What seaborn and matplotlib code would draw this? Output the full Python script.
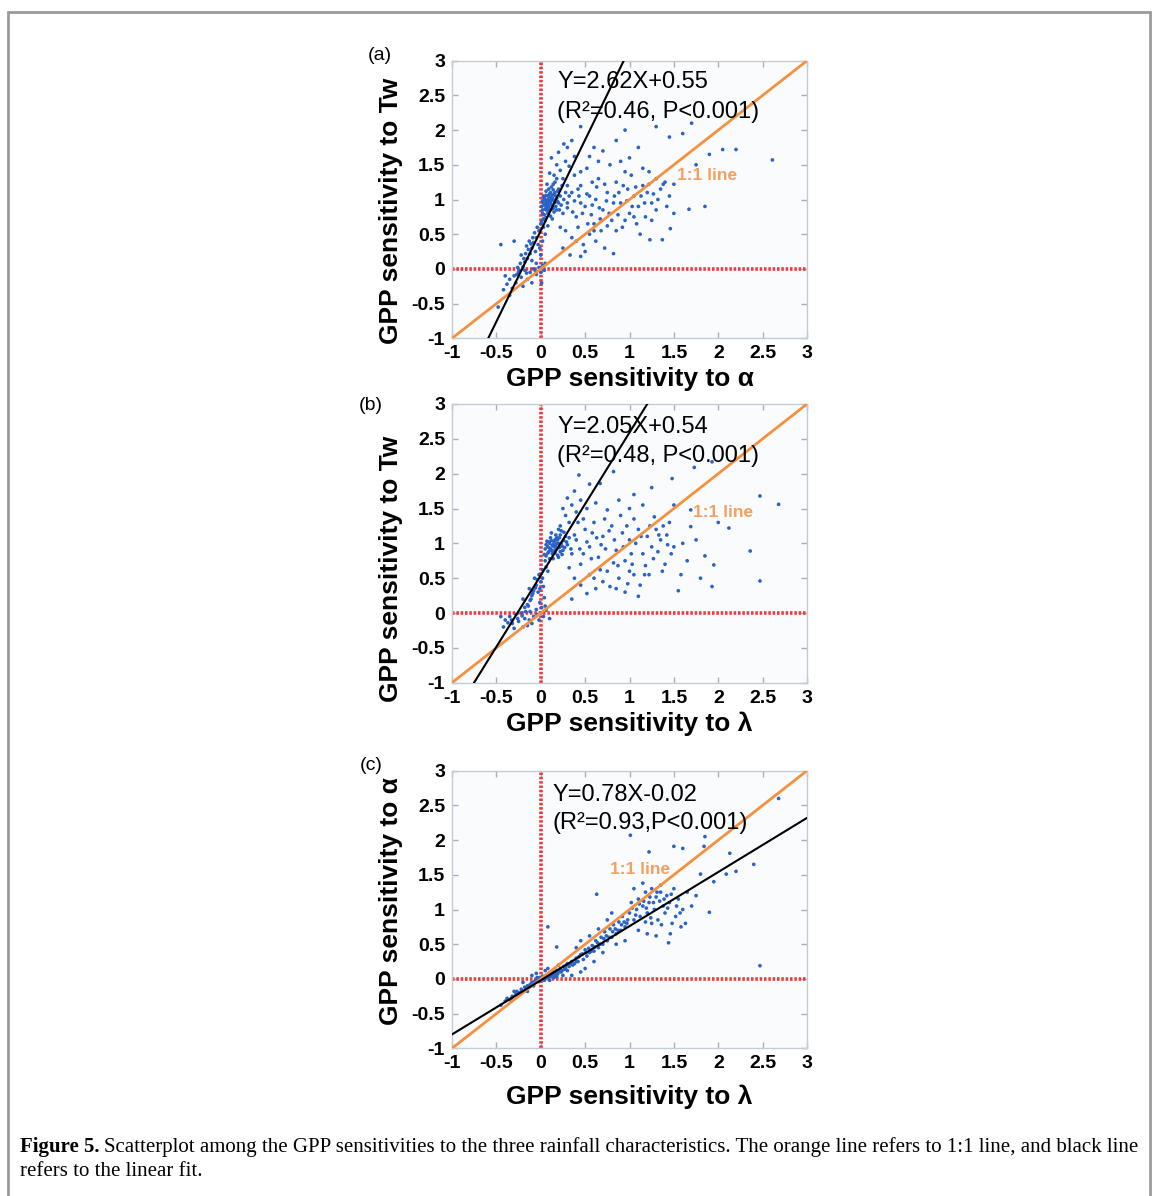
import matplotlib
matplotlib.use("Agg")
import matplotlib.pyplot as plt
import seaborn as sns
import numpy as np
from matplotlib.lines import Line2D
from matplotlib.ticker import MultipleLocator, FormatStrFormatter

# points (x, y); a: alpha vs Tw, b: lambda vs Tw, c: lambda vs alpha
a_pts = [
    (0.02, 0.85), (0.04, 0.92), (0.05, 1.00), (0.06, 0.88), (0.07, 0.95), (0.08, 1.05), (0.09, 0.90), (0.10, 0.98),
    (0.11, 1.10), (0.12, 0.93), (0.13, 1.02), (0.14, 0.87), (0.15, 1.08), (0.06, 1.12), (0.08, 0.80), (0.10, 0.84),
    (0.12, 1.18), (0.16, 0.96), (0.18, 1.02), (0.04, 0.78), (0.03, 1.05), (0.09, 1.15), (0.11, 0.76), (0.14, 1.14),
    (0.17, 0.90), (0.19, 1.12), (0.05, 0.70), (0.07, 1.22), (0.13, 0.72), (0.20, 0.95), (0.22, 1.05), (0.16, 1.25),
    (0.02, 0.98), (0.08, 0.99), (0.10, 1.03), (0.12, 0.99), (0.06, 0.96), (0.09, 0.86), (0.15, 0.82), (0.21, 0.85),
    (0.00, 0.65), (-0.02, 0.55), (0.03, 0.60), (-0.05, 0.45), (-0.08, 0.38), (-0.03, 0.35), (-0.10, 0.30),
    (-0.12, 0.22), (-0.06, 0.25), (-0.15, 0.15), (-0.18, 0.10), (-0.10, 0.12), (-0.20, 0.03), (-0.05, 0.08),
    (0.02, 0.40), (0.05, 0.50), (0.08, 0.62), (-0.13, 0.40), (-0.16, 0.33), (-0.22, 0.20),
    (-0.30, -0.10), (-0.25, -0.05), (-0.28, -0.20), (-0.22, -0.12), (-0.18, -0.02), (-0.15, -0.15), (-0.12, -0.05),
    (-0.08, 0.00), (-0.05, -0.08), (-0.02, 0.02), (0.00, -0.05), (0.02, 0.05), (0.04, -0.02), (-0.10, -0.20),
    (-0.35, -0.15), (-0.38, -0.22), (-0.32, -0.28), (-0.20, -0.25), (0.01, -0.20), (0.05, 0.08), (-0.40, -0.10),
    (-0.26, 0.02), (-0.42, -0.30), (-0.45, 0.35), (-0.30, 0.40), (-0.48, -0.55), (-0.35, -0.38),
    (0.15, 1.35), (0.18, 1.50), (0.12, 1.60), (0.22, 1.42), (0.25, 1.30), (0.28, 1.55), (0.20, 1.68), (0.30, 1.75),
    (0.32, 1.48), (0.35, 1.85), (0.26, 1.80), (0.45, 2.05), (0.38, 1.62), (0.10, 1.38),
    (0.25, 0.80), (0.30, 0.95), (0.35, 1.10), (0.40, 0.75), (0.45, 1.20), (0.50, 0.90), (0.55, 1.05), (0.60, 0.65),
    (0.65, 1.30), (0.70, 0.85), (0.75, 1.10), (0.80, 0.70), (0.85, 1.25), (0.90, 0.95), (0.95, 1.40), (1.00, 0.80),
    (0.28, 0.55), (0.35, 0.45), (0.42, 0.60), (0.48, 0.35), (0.55, 0.50), (0.62, 0.40), (0.68, 0.55), (0.72, 0.30),
    (0.38, 1.35), (0.52, 1.45), (0.58, 1.25), (0.78, 1.50), (0.88, 1.10), (0.30, 1.20), (0.45, 0.95), (0.62, 1.00),
    (0.82, 0.95), (0.25, 0.30), (0.33, 0.20), (0.45, 0.18), (0.50, 0.25), (0.22, 0.60), (0.57, 0.78), (0.67, 0.72),
    (0.74, 0.98), (0.92, 0.60), (0.98, 1.15), (0.43, 1.05), (0.36, 0.82), (0.82, 0.22),
    (1.05, 1.05), (1.10, 0.90), (1.15, 1.20), (1.20, 1.10), (1.25, 0.95), (1.30, 1.30), (1.35, 1.15), (1.08, 0.65),
    (1.18, 0.75), (1.23, 0.42), (1.37, 0.42), (1.12, 0.50), (1.22, 1.40), (1.40, 1.25), (1.45, 1.05), (1.02, 1.35),
    (1.30, 0.85), (1.15, 1.45), (1.46, 0.58),
    (0.70, 1.70), (0.85, 1.85), (1.00, 1.60), (1.10, 1.75), (1.30, 2.05), (1.45, 1.90), (1.70, 2.10), (1.90, 1.65),
    (2.05, 1.72), (2.20, 1.72), (1.60, 1.95), (0.95, 2.00),
    (2.61, 1.57), (1.85, 0.90), (1.67, 0.86), (1.50, 0.80), (1.50, 1.22), (1.75, 1.50),
]
a_pts_more = [
    (0.01, 0.90), (0.03, 0.95), (0.05, 0.86), (0.07, 0.90), (0.09, 1.00), (0.11, 0.95), (0.13, 0.90), (0.15, 0.98),
    (0.17, 1.05), (0.19, 0.97), (0.04, 1.02), (0.06, 1.06), (0.08, 0.93), (0.10, 1.08), (0.12, 0.86), (0.14, 1.00),
    (0.16, 1.10), (0.18, 0.85), (0.20, 1.15), (0.23, 0.92), (0.05, 0.94), (0.07, 0.84), (0.09, 0.97), (0.11, 1.02),
    (0.13, 1.06), (0.02, 0.80), (0.24, 1.20), (0.26, 1.00), (0.28, 1.10), (0.30, 0.88), (0.18, 1.30), (0.14, 1.22),
    (0.03, 0.72), (0.01, 0.68), (0.06, 0.74),
    (-0.04, 0.60), (-0.07, 0.52), (-0.09, 0.45), (-0.11, 0.36), (-0.14, 0.28), (-0.17, 0.22), (-0.19, 0.15),
    (-0.23, 0.08), (-0.01, 0.30), (0.00, 0.20), (-0.24, -0.02), (-0.27, -0.08), (-0.16, -0.06), (-0.06, -0.03),
    (0.03, 0.00),
    (0.32, 1.05), (0.38, 0.98), (0.42, 1.15), (0.47, 0.80), (0.52, 1.08), (0.58, 0.92), (0.63, 1.18), (0.66, 0.88),
    (0.72, 1.22), (0.77, 0.80), (0.83, 1.05), (0.87, 0.78), (0.93, 1.20), (0.97, 0.98), (1.03, 0.90), (1.07, 1.18),
    (1.13, 1.05), (1.17, 0.95), (1.22, 1.22), (1.27, 1.08), (1.32, 1.00), (1.38, 1.22), (1.42, 0.90), (0.53, 0.65),
    (0.60, 0.55), (0.75, 0.62), (0.85, 0.55), (0.95, 0.70), (1.05, 0.75), (1.25, 0.70), (0.40, 0.40), (0.65, 1.55),
    (0.55, 1.62), (0.45, 1.40), (0.60, 1.75), (0.90, 1.55),
]

b_pts = [
    (0.08, 0.95), (0.10, 1.00), (0.12, 0.90), (0.14, 0.98), (0.16, 1.05), (0.18, 0.92), (0.20, 1.00), (0.22, 0.88),
    (0.11, 1.08), (0.13, 0.85), (0.15, 0.95), (0.17, 1.12), (0.19, 0.83), (0.21, 1.08), (0.24, 0.96), (0.26, 1.04),
    (0.09, 0.88), (0.07, 1.03), (0.12, 1.15), (0.25, 0.90), (0.28, 1.10), (0.05, 0.92), (0.18, 1.00), (0.14, 0.78),
    (0.23, 1.18), (0.30, 0.98), (0.06, 0.82), (0.16, 0.90), (0.20, 0.80), (0.10, 0.93),
    (0.05, 0.75), (0.02, 0.62), (-0.02, 0.55), (0.00, 0.45), (-0.05, 0.40), (-0.08, 0.32), (-0.10, 0.25),
    (-0.12, 0.18), (-0.15, 0.12), (-0.18, 0.08), (-0.03, 0.30), (0.03, 0.38), (-0.07, 0.50), (0.08, 0.60),
    (-0.13, 0.35), (-0.20, 0.20), (0.04, 0.22), (-0.01, 0.15),
    (-0.40, -0.10), (-0.35, -0.05), (-0.32, -0.15), (-0.28, -0.02), (-0.25, -0.12), (-0.22, 0.00), (-0.18, -0.08),
    (-0.15, -0.18), (-0.12, 0.02), (-0.08, -0.05), (-0.05, 0.05), (-0.02, -0.10), (0.00, 0.00), (0.03, -0.05),
    (0.06, 0.04), (0.10, -0.08), (-0.42, -0.20), (-0.30, -0.22), (-0.20, -0.20), (-0.45, -0.05), (-0.10, -0.15),
    (0.01, 0.08),
    (0.22, 1.25), (0.28, 1.40), (0.32, 1.30), (0.35, 1.55), (0.30, 1.65), (0.40, 1.45), (0.38, 1.75), (0.45, 1.62),
    (0.43, 1.98), (0.25, 1.50), (0.55, 1.85), (0.67, 1.86), (0.82, 2.03), (0.48, 1.35),
    (0.35, 0.85), (0.40, 1.05), (0.45, 0.70), (0.50, 1.20), (0.55, 0.95), (0.60, 1.30), (0.65, 0.80), (0.70, 1.10),
    (0.75, 0.60), (0.80, 1.25), (0.85, 0.90), (0.90, 1.40), (0.95, 0.75), (1.00, 1.05), (1.05, 0.55), (1.10, 1.20),
    (1.15, 0.85), (1.20, 1.10), (1.25, 0.95), (1.30, 1.20), (1.35, 1.05), (1.40, 0.70), (1.45, 1.30), (1.50, 0.95),
    (0.38, 0.50), (0.45, 0.40), (0.55, 0.55), (0.62, 0.35), (0.70, 0.45), (0.78, 0.38), (0.88, 0.50), (0.98, 0.42),
    (1.10, 0.24), (1.12, 0.40), (1.22, 0.55), (0.42, 1.30), (0.58, 1.15), (0.72, 1.35), (0.92, 1.15), (1.05, 1.35),
    (1.28, 1.38), (1.38, 1.25), (0.32, 0.65), (0.48, 0.85), (0.68, 0.98), (0.82, 0.72), (1.02, 0.85), (1.18, 0.68),
    (1.32, 0.88), (1.42, 1.12), (0.52, 0.28), (0.35, 0.20),
    (1.55, 0.32), (1.60, 1.00), (1.65, 0.75), (1.69, 1.24), (1.69, 1.48), (1.50, 1.55), (1.80, 0.50), (1.93, 0.38),
    (1.95, 0.69), (1.85, 0.82), (2.12, 1.22), (2.36, 0.89), (2.47, 0.46), (2.47, 1.68), (2.68, 1.56), (1.73, 2.09),
    (1.93, 2.17), (1.48, 1.93), (1.25, 1.80), (1.05, 1.70), (1.75, 1.05), (2.00, 1.30), (1.58, 0.55),
]
b_pts_more = [
    (0.09, 1.02), (0.11, 0.92), (0.13, 0.97), (0.15, 1.02), (0.17, 0.96), (0.19, 1.05), (0.21, 0.94), (0.23, 1.00),
    (0.14, 0.88), (0.18, 1.08), (0.12, 1.04), (0.16, 0.86), (0.22, 1.12), (0.27, 0.94), (0.29, 1.02), (0.06, 0.98),
    (0.08, 0.86), (0.24, 0.84), (0.20, 1.20), (0.32, 1.08), (0.34, 0.92), (0.26, 1.16), (0.04, 0.84), (0.10, 0.78),
    (-0.04, 0.48), (-0.06, 0.36), (-0.09, 0.28), (-0.11, 0.20), (-0.14, 0.10), (-0.17, 0.02), (-0.01, 0.35),
    (0.02, 0.50), (0.06, 0.66), (-0.21, -0.04), (-0.26, -0.08), (-0.33, -0.10), (-0.37, -0.14), (-0.13, -0.10),
    (-0.04, -0.02), (0.05, 0.10),
    (0.38, 1.12), (0.44, 0.92), (0.52, 1.02), (0.57, 0.78), (0.63, 1.08), (0.67, 0.62), (0.73, 0.92), (0.77, 1.18),
    (0.83, 1.05), (0.87, 0.68), (0.93, 0.95), (0.97, 1.25), (1.03, 0.70), (1.07, 1.00), (1.13, 1.10), (1.17, 0.55),
    (1.23, 1.25), (1.27, 0.78), (1.33, 1.12), (1.37, 0.60), (1.43, 0.98), (1.47, 0.85), (0.60, 0.50), (0.85, 0.35),
    (0.95, 0.30), (1.00, 0.60), (0.52, 1.50), (0.62, 1.58), (0.75, 1.48), (0.88, 1.62), (1.00, 1.50), (1.15, 1.55),
]

c_pts = [
    (-0.45, -0.38), (-0.40, -0.32), (-0.35, -0.30), (-0.32, -0.25), (-0.28, -0.22), (-0.25, -0.20), (-0.22, -0.15),
    (-0.20, -0.18), (-0.18, -0.12), (-0.15, -0.10), (-0.12, -0.08), (-0.10, -0.05), (-0.08, -0.10), (-0.06, -0.02),
    (-0.04, 0.02), (-0.02, -0.04), (0.00, 0.00), (0.02, 0.04), (0.04, -0.02), (0.06, 0.05), (0.08, 0.02),
    (0.10, 0.08), (0.12, 0.05), (0.14, 0.10), (0.16, 0.08), (0.18, 0.12), (0.20, 0.10), (0.22, 0.15), (0.24, 0.12),
    (0.26, 0.18), (0.28, 0.16), (0.30, 0.22), (0.32, 0.18), (0.35, 0.25), (0.38, 0.22), (-0.30, -0.18),
    (-0.15, -0.18), (-0.05, 0.08), (0.05, 0.12), (0.10, -0.02), (0.15, 0.02), (0.20, 0.20), (0.25, 0.05),
    (0.30, 0.12), (-0.10, 0.05), (-0.20, -0.05), (0.08, 0.15), (0.18, 0.03),
    (0.40, 0.30), (0.42, 0.25), (0.45, 0.35), (0.48, 0.28), (0.50, 0.42), (0.52, 0.33), (0.55, 0.38), (0.58, 0.48),
    (0.60, 0.40), (0.62, 0.55), (0.65, 0.45), (0.68, 0.60), (0.70, 0.50), (0.72, 0.68), (0.75, 0.55), (0.78, 0.72),
    (0.80, 0.60), (0.82, 0.78), (0.85, 0.65), (0.88, 0.82), (0.90, 0.70), (0.92, 0.90), (0.95, 0.75), (0.98, 0.85),
    (0.45, 0.55), (0.55, 0.62), (0.65, 0.72), (0.75, 0.85), (0.85, 0.50), (0.70, 0.38), (0.60, 0.25), (0.50, 0.15),
    (0.95, 0.55), (0.40, 0.45), (0.80, 0.95), (0.63, 1.22), (0.08, 0.75), (0.18, 0.46), (0.35, 0.05), (0.45, 0.10),
    (1.00, 0.95), (1.02, 1.10), (1.05, 0.85), (1.08, 1.00), (1.10, 1.15), (1.12, 0.90), (1.15, 1.05), (1.18, 1.25),
    (1.20, 0.95), (1.22, 1.10), (1.25, 1.30), (1.28, 1.00), (1.30, 1.18), (1.32, 0.85), (1.35, 1.25), (1.38, 1.05),
    (1.40, 0.95), (1.42, 1.20), (1.45, 1.10), (1.48, 0.80), (1.50, 1.30), (1.52, 0.90), (1.55, 1.15), (1.58, 0.75),
    (1.10, 0.70), (1.20, 0.65), (1.30, 0.62), (1.44, 0.52), (1.63, 0.80), (1.05, 1.30), (1.15, 1.38), (1.35, 1.35),
    (1.60, 1.00), (1.65, 1.25), (1.25, 0.80),
    (2.68, 2.60), (2.47, 0.19), (1.90, 0.96), (2.13, 1.81), (2.09, 1.51), (1.95, 1.40), (1.80, 1.51), (1.50, 1.91),
    (1.84, 1.91), (2.40, 1.65), (1.22, 1.83), (1.01, 2.07), (1.75, 1.20), (1.70, 1.05), (1.60, 1.88), (1.85, 2.05),
    (2.20, 1.55),
]
c_pts_more = [
    (-0.38, -0.28), (-0.33, -0.28), (-0.27, -0.18), (-0.23, -0.20), (-0.17, -0.14), (-0.13, -0.12), (-0.09, -0.07),
    (-0.07, -0.04), (-0.03, 0.00), (-0.01, 0.02), (0.01, -0.01), (0.03, 0.02), (0.05, 0.00), (0.07, 0.04),
    (0.09, 0.06), (0.11, 0.03), (0.13, 0.07), (0.15, 0.05), (0.17, 0.10), (0.19, 0.07), (0.21, 0.12), (0.23, 0.10),
    (0.27, 0.14), (0.29, 0.20), (0.33, 0.22), (0.36, 0.20), (0.40, 0.25), (0.43, 0.32), (0.47, 0.36), (0.51, 0.38),
    (0.54, 0.44), (0.57, 0.40), (0.61, 0.46), (0.64, 0.52), (0.67, 0.50), (0.71, 0.58), (0.74, 0.62), (0.77, 0.60),
    (0.81, 0.68), (0.84, 0.72), (0.87, 0.70), (0.91, 0.78), (0.94, 0.82), (0.97, 0.80),
    (1.03, 1.02), (1.07, 0.92), (1.11, 1.08), (1.16, 1.12), (1.19, 1.02), (1.23, 1.18), (1.27, 1.10), (1.31, 1.25),
    (1.34, 1.12), (1.39, 1.15), (1.43, 1.02), (1.47, 1.22), (1.53, 1.05), (1.57, 0.95), (1.24, 0.88), (1.36, 0.78),
    (1.18, 0.82), (1.46, 0.65),
]

slopes = [2.62, 2.05, 0.78]
intercepts = [0.55, 0.54, -0.02]
eq_line1 = ["Y=2.62X+0.55", "Y=2.05X+0.54", "Y=0.78X-0.02"]
eq_line2 = ["(R²=0.46, P<0.001)", "(R²=0.48, P<0.001)", "(R²=0.93,P<0.001)"]
xlabels = ["GPP sensitivity to α", "GPP sensitivity to λ", "GPP sensitivity to λ"]
ylabels = ["GPP sensitivity to Tw", "GPP sensitivity to Tw", "GPP sensitivity to α"]
panel_tags = ["(a)", "(b)", "(c)"]
oneone_pos = [(1.535, 1.35), (1.715, 1.44), (0.78, 1.57)]

W, H = 1152, 1196
sns.set_style("ticks")
plt.rcParams["font.family"] = ["Liberation Sans", "DejaVu Sans"]
plt.rcParams["axes.unicode_minus"] = False
plt.rcParams["text.color"] = "black"
plt.rcParams["axes.labelcolor"] = "black"

fig = plt.figure(figsize=(W / 100, H / 100), dpi=100)

def fx(px):
    return px / W

def fy(py):
    return 1 - py / H

# axes boxes in pixels: left, top, right, bottom
boxes = [(452, 60.7, 807, 338.3), (452, 404, 807, 682.7), (452, 770.7, 807, 1048.3)]
eq_y = [(0.923, 0.815), (0.917, 0.813), (0.912, 0.812)]
eq_x = [0.296, 0.296, 0.282]
ylab_y = [0.46, 0.41, 0.53]
xlab_y = [-0.147, -0.148, -0.175]
tag_xy = [(380, 55), (371, 405), (371, 765)]

orange = "#f5913e"
red = "#f03a3a"
blue = "#2a62c6"
ref = np.array([-1.0, 3.0])

panels = [a_pts + a_pts_more, b_pts + b_pts_more, c_pts + c_pts_more]
for i, pts in enumerate(panels):
    l, t, r, b = boxes[i]
    ax = fig.add_axes([fx(l), fy(b), fx(r - l), (b - t) / H])
    ax.set_facecolor("#fafbfd")
    ax.axhline(0, color=red, lw=2.6, ls=(0, (0.7, 0.5)), zorder=1)
    ax.axvline(0, color=red, lw=2.6, ls=(0, (0.7, 0.5)), zorder=1)
    xs = [p[0] for p in pts]
    ys = [p[1] for p in pts]
    sns.scatterplot(x=xs, y=ys, ax=ax, s=7, color=blue, edgecolor="none", linewidth=0, zorder=2)
    ax.plot(ref, ref, color=orange, lw=2, zorder=3)
    ax.plot(ref, slopes[i] * ref + intercepts[i], color="black", lw=1.5, zorder=4)
    ax.set_xlim(-1, 3)
    ax.set_ylim(-1, 3)
    ax.xaxis.set_major_locator(MultipleLocator(0.5))
    ax.yaxis.set_major_locator(MultipleLocator(0.5))
    ax.xaxis.set_major_formatter(FormatStrFormatter("%g"))
    ax.yaxis.set_major_formatter(FormatStrFormatter("%g"))
    ax.tick_params(direction="in", top=True, right=True, length=4, width=1,
                   color="#a8b0bc", labelcolor="black", labelsize=14, pad=5)
    for lab in ax.get_xticklabels() + ax.get_yticklabels():
        lab.set_fontweight("bold")
    for sp in ax.spines.values():
        sp.set_color("#c4ccd6")
        sp.set_linewidth(1)
    ax.set_xlabel(xlabels[i], fontsize=19, fontweight="bold", va="center")
    ax.set_ylabel(ylabels[i], fontsize=19, fontweight="bold", va="center")
    ax.xaxis.set_label_coords(0.5, xlab_y[i])
    ax.yaxis.set_label_coords(-0.172, ylab_y[i])
    ax.text(eq_x[i], eq_y[i][0], eq_line1[i], transform=ax.transAxes, fontsize=17, va="center", ha="left")
    ax.text(eq_x[i], eq_y[i][1], eq_line2[i], transform=ax.transAxes, fontsize=17, va="center", ha="left")
    ax.text(oneone_pos[i][0], oneone_pos[i][1], "1:1 line", color="#f4a060", fontsize=12.5,
            fontweight="bold", va="center", ha="left", zorder=5)
    fig.text(fx(tag_xy[i][0]), fy(tag_xy[i][1]), panel_tags[i], fontsize=14, ha="center", va="center")

# outer frame
for xs_, ys_ in [((8, 8), (12, H + 5)), ((8, 1150), (12, 12)), ((1150, 1150), (12, H + 5))]:
    fig.add_artist(Line2D([fx(v) for v in xs_], [fy(v) for v in ys_], color="#9a9a9e", lw=2))

# caption
serif = ["Liberation Serif", "DejaVu Serif"]
cap_size = 15
t1 = fig.text(fx(20), fy(1147), "Figure 5.", fontsize=cap_size, fontweight="bold", family=serif, va="center")
fig.canvas.draw()
bb = t1.get_window_extent()
fig.text((bb.x1 + 4) / W, fy(1147),
         "Scatterplot among the GPP sensitivities to the three rainfall characteristics. "
         "The orange line refers to 1:1 line, and black line",
         fontsize=cap_size, family=serif, va="center")
fig.text(fx(20), fy(1172), "refers to the linear fit.", fontsize=cap_size, family=serif, va="center")

fig.savefig("out.png", dpi=100)
